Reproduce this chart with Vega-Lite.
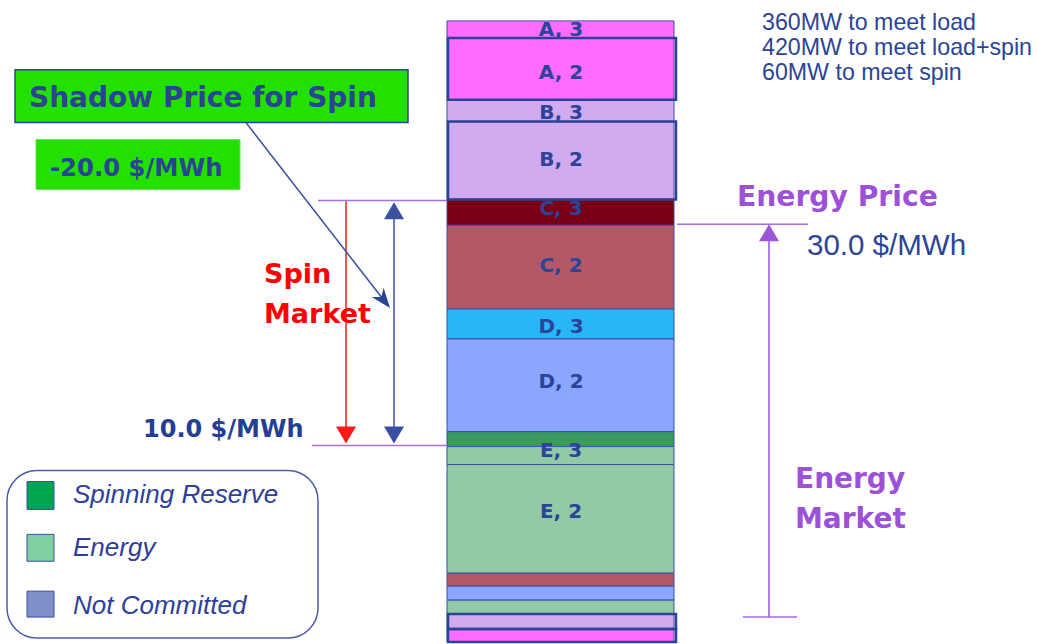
{
  "$schema": "https://vega.github.io/schema/vega-lite/v6.json",
  "width": 1038,
  "height": 644,
  "autosize": {"type": "fit", "contains": "padding"},
  "padding": 0,
  "background": "white",
  "config": {"view": {"stroke": null}},
  "datasets": {
    "blocks": [
      {"offer": "A, 3", "kind": "A-nc", "top": 21, "bottom": 38, "thick": false},
      {"offer": "A, 2", "kind": "A-nc", "top": 38, "bottom": 100, "thick": true},
      {"offer": "B, 3", "kind": "B-nc", "top": 100, "bottom": 122, "thick": false},
      {"offer": "B, 2", "kind": "B-nc", "top": 122, "bottom": 200, "thick": true},
      {"offer": "C, 3", "kind": "C-spin", "top": 200, "bottom": 226, "thick": false},
      {"offer": "C, 2", "kind": "C-energy", "top": 226, "bottom": 310, "thick": false},
      {"offer": "D, 3", "kind": "D-spin", "top": 310, "bottom": 340, "thick": false},
      {"offer": "D, 2", "kind": "D-energy", "top": 340, "bottom": 433, "thick": false},
      {"offer": "E, 3", "kind": "E-spin", "top": 433, "bottom": 448, "thick": false},
      {"offer": "E, 3", "kind": "E-energy", "top": 448, "bottom": 466, "thick": false},
      {"offer": "E, 2", "kind": "E-energy", "top": 466, "bottom": 575, "thick": false},
      {"offer": "C, 1", "kind": "C-energy", "top": 575, "bottom": 588, "thick": false},
      {"offer": "D, 1", "kind": "D-energy", "top": 588, "bottom": 602, "thick": false},
      {"offer": "E, 1", "kind": "E-energy", "top": 602, "bottom": 616, "thick": false},
      {"offer": "B, 1", "kind": "B-nc", "top": 616, "bottom": 631, "thick": true},
      {"offer": "A, 1", "kind": "A-nc", "top": 631, "bottom": 644, "thick": true}
    ],
    "labels": [
      {"label": "A, 3", "y": 30},
      {"label": "A, 2", "y": 73},
      {"label": "B, 3", "y": 113},
      {"label": "B, 2", "y": 160},
      {"label": "C, 3", "y": 210},
      {"label": "C, 2", "y": 267},
      {"label": "D, 3", "y": 328},
      {"label": "D, 2", "y": 383},
      {"label": "E, 3", "y": 452},
      {"label": "E, 2", "y": 514}
    ],
    "rules": [
      {"x": 318, "x2": 447, "y": 201, "y2": 201, "group": "guide"},
      {"x": 312, "x2": 447, "y": 447, "y2": 447, "group": "guide"},
      {"x": 677, "x2": 808, "y": 225, "y2": 225, "group": "guide"},
      {"x": 743, "x2": 797, "y": 619, "y2": 619, "group": "guide"},
      {"x": 346, "x2": 346, "y": 202, "y2": 432, "group": "spin"},
      {"x": 394, "x2": 394, "y": 215, "y2": 432, "group": "range"},
      {"x": 769, "x2": 769, "y": 238, "y2": 619, "group": "energy"},
      {"x": 246, "x2": 386, "y": 123, "y2": 304, "group": "pointer"}
    ],
    "heads": [
      {"x": 346, "y": 445, "group": "spin", "dir": "down"},
      {"x": 394, "y": 445, "group": "range", "dir": "down"},
      {"x": 394, "y": 203, "group": "range", "dir": "up"},
      {"x": 769, "y": 225, "group": "energy", "dir": "up"}
    ],
    "swatches": [
      {"kind": "Spinning Reserve", "y": 483, "y2": 511, "ty": 505},
      {"kind": "Energy", "y": 536, "y2": 563, "ty": 558},
      {"kind": "Not Committed", "y": 593, "y2": 619, "ty": 616}
    ]
  },
  "layer": [
    {
      "data": {"values": [{"x": 7, "x2": 318, "y": 472, "y2": 640}]},
      "mark": {"type": "rect", "fill": "white", "stroke": "#4b5ca6", "strokeWidth": 1.5, "cornerRadius": 30},
      "encoding": {
        "x": {"field": "x", "type": "quantitative", "scale": {"domain": [0, 1038], "nice": false, "zero": false}, "axis": null},
        "x2": {"field": "x2"},
        "y": {"field": "y", "type": "quantitative", "scale": {"domain": [0, 644], "reverse": true, "nice": false, "zero": false}, "axis": null},
        "y2": {"field": "y2"}
      }
    },
    {
      "data": {"values": [{"x": 15, "x2": 408, "y": 70, "y2": 123}]},
      "mark": {"type": "rect", "fill": "#22e000", "stroke": "#2d4596", "strokeWidth": 1.5},
      "encoding": {
        "x": {"field": "x", "type": "quantitative", "scale": {"domain": [0, 1038], "nice": false, "zero": false}, "axis": null},
        "x2": {"field": "x2"},
        "y": {"field": "y", "type": "quantitative", "scale": {"domain": [0, 644], "reverse": true, "nice": false, "zero": false}, "axis": null},
        "y2": {"field": "y2"}
      }
    },
    {
      "data": {"values": [{"x": 36, "x2": 240, "y": 140, "y2": 190}]},
      "mark": {"type": "rect", "fill": "#22e000", "stroke": "#60e44c", "strokeWidth": 1},
      "encoding": {
        "x": {"field": "x", "type": "quantitative", "scale": {"domain": [0, 1038], "nice": false, "zero": false}, "axis": null},
        "x2": {"field": "x2"},
        "y": {"field": "y", "type": "quantitative", "scale": {"domain": [0, 644], "reverse": true, "nice": false, "zero": false}, "axis": null},
        "y2": {"field": "y2"}
      }
    },
    {
      "data": {"name": "blocks"},
      "mark": {"type": "rect", "stroke": "#3b4fa3", "strokeWidth": 1},
      "encoding": {
        "x": {"datum": 447, "type": "quantitative", "scale": {"domain": [0, 1038], "nice": false, "zero": false}, "axis": null},
        "x2": {"datum": 674},
        "y": {"field": "top", "type": "quantitative", "scale": {"domain": [0, 644], "reverse": true, "nice": false, "zero": false}, "axis": null},
        "y2": {"field": "bottom"},
        "fill": {
          "field": "kind", "type": "nominal", "legend": null,
          "scale": {
            "domain": ["A-nc", "B-nc", "C-spin", "C-energy", "D-spin", "D-energy", "E-spin", "E-energy", "Spinning Reserve", "Energy", "Not Committed"],
            "range": ["#ff6cff", "#d2aaf0", "#7a0016", "#b45868", "#29b6f6", "#8aa6ff", "#3a9a62", "#92caa8", "#00a550", "#7fd0a0", "#8090c8"]
          }
        }
      }
    },
    {
      "data": {"name": "blocks"},
      "transform": [{"filter": "datum.thick"}],
      "mark": {"type": "rect", "filled": false, "stroke": "#2a4494", "strokeWidth": 2.5},
      "encoding": {
        "x": {"datum": 448, "type": "quantitative", "scale": {"domain": [0, 1038], "nice": false, "zero": false}, "axis": null},
        "x2": {"datum": 676},
        "y": {"field": "top", "type": "quantitative", "scale": {"domain": [0, 644], "reverse": true, "nice": false, "zero": false}, "axis": null},
        "y2": {"field": "bottom"}
      }
    },
    {
      "data": {"name": "labels"},
      "mark": {"type": "text", "font": "DejaVu Sans", "fontWeight": "bold", "fontSize": 20, "fill": "#2b4497", "align": "center", "baseline": "middle"},
      "encoding": {
        "x": {"datum": 561, "type": "quantitative", "scale": {"domain": [0, 1038], "nice": false, "zero": false}, "axis": null},
        "y": {"field": "y", "type": "quantitative", "scale": {"domain": [0, 644], "reverse": true, "nice": false, "zero": false}, "axis": null},
        "text": {"field": "label", "type": "nominal"}
      }
    },
    {
      "data": {"name": "rules"},
      "mark": {"type": "rule", "strokeWidth": 1.5},
      "encoding": {
        "x": {"field": "x", "type": "quantitative", "scale": {"domain": [0, 1038], "nice": false, "zero": false}, "axis": null},
        "x2": {"field": "x2"},
        "y": {"field": "y", "type": "quantitative", "scale": {"domain": [0, 644], "reverse": true, "nice": false, "zero": false}, "axis": null},
        "y2": {"field": "y2"},
        "color": {
          "field": "group", "type": "nominal", "legend": null,
          "scale": {"domain": ["guide", "spin", "range", "energy", "pointer"], "range": ["#a66ee0", "#ff1a1a", "#3a4f9f", "#9b55d8", "#3a4f9f"]}
        }
      }
    },
    {
      "data": {"name": "heads"},
      "mark": {"type": "point", "filled": true, "opacity": 1, "size": 400, "strokeWidth": 0},
      "encoding": {
        "x": {"field": "x", "type": "quantitative", "scale": {"domain": [0, 1038], "nice": false, "zero": false}, "axis": null},
        "y": {"field": "y", "type": "quantitative", "scale": {"domain": [0, 644], "reverse": true, "nice": false, "zero": false}, "axis": null},
        "shape": {"field": "dir", "type": "nominal", "legend": null, "scale": {"domain": ["up", "down"], "range": ["M0,0L-1,1.7L1,1.7Z", "M0,0L-1,-1.7L1,-1.7Z"]}},
        "color": {"field": "group", "type": "nominal", "legend": null}
      }
    },
    {
      "data": {"values": [{"x": 390, "y": 309}]},
      "mark": {"type": "point", "filled": true, "opacity": 1, "size": 400, "strokeWidth": 0, "fill": "#2a4494", "shape": "M0,0L-0.75,-2L0,-1.4L0.75,-2Z", "angle": 322},
      "encoding": {
        "x": {"field": "x", "type": "quantitative", "scale": {"domain": [0, 1038], "nice": false, "zero": false}, "axis": null},
        "y": {"field": "y", "type": "quantitative", "scale": {"domain": [0, 644], "reverse": true, "nice": false, "zero": false}, "axis": null}
      }
    },
    {
      "data": {"name": "swatches"},
      "mark": {"type": "rect", "stroke": "#3b4fa3", "strokeWidth": 1},
      "encoding": {
        "x": {"datum": 27, "type": "quantitative", "scale": {"domain": [0, 1038], "nice": false, "zero": false}, "axis": null},
        "x2": {"datum": 54},
        "y": {"field": "y", "type": "quantitative", "scale": {"domain": [0, 644], "reverse": true, "nice": false, "zero": false}, "axis": null},
        "y2": {"field": "y2"},
        "fill": {"field": "kind", "type": "nominal", "legend": null}
      }
    },
    {
      "data": {"name": "swatches"},
      "mark": {"type": "text", "font": "Liberation Sans", "fontStyle": "italic", "fontSize": 26, "fill": "#2e409a", "align": "left", "baseline": "alphabetic"},
      "encoding": {
        "x": {"datum": 73, "type": "quantitative", "scale": {"domain": [0, 1038], "nice": false, "zero": false}, "axis": null},
        "y": {"field": "ty", "type": "quantitative", "scale": {"domain": [0, 644], "reverse": true, "nice": false, "zero": false}, "axis": null},
        "text": {"field": "kind", "type": "nominal"}
      }
    },
    {
      "data": {"values": [{"t": "360MW to meet load", "y": 30}, {"t": "420MW to meet load+spin", "y": 55}, {"t": "60MW to meet spin", "y": 80}]},
      "mark": {"type": "text", "font": "Liberation Sans", "fontSize": 23.2, "fill": "#2b4497", "align": "left", "baseline": "alphabetic"},
      "encoding": {
        "x": {"datum": 762, "type": "quantitative", "scale": {"domain": [0, 1038], "nice": false, "zero": false}, "axis": null},
        "y": {"field": "y", "type": "quantitative", "scale": {"domain": [0, 644], "reverse": true, "nice": false, "zero": false}, "axis": null},
        "text": {"field": "t", "type": "nominal"}
      }
    },
    {
      "data": {"values": [{"t": "Shadow Price for Spin", "x": 29, "y": 107}]},
      "mark": {"type": "text", "font": "DejaVu Sans", "fontWeight": "bold", "fontSize": 28, "fill": "#2a4494", "align": "left", "baseline": "alphabetic"},
      "encoding": {
        "x": {"field": "x", "type": "quantitative", "scale": {"domain": [0, 1038], "nice": false, "zero": false}, "axis": null},
        "y": {"field": "y", "type": "quantitative", "scale": {"domain": [0, 644], "reverse": true, "nice": false, "zero": false}, "axis": null},
        "text": {"field": "t", "type": "nominal"}
      }
    },
    {
      "data": {"values": [{"t": "-20.0 $/MWh", "x": 50, "y": 177}]},
      "mark": {"type": "text", "font": "DejaVu Sans", "fontWeight": "bold", "fontSize": 24.3, "fill": "#2a4494", "align": "left", "baseline": "alphabetic"},
      "encoding": {
        "x": {"field": "x", "type": "quantitative", "scale": {"domain": [0, 1038], "nice": false, "zero": false}, "axis": null},
        "y": {"field": "y", "type": "quantitative", "scale": {"domain": [0, 644], "reverse": true, "nice": false, "zero": false}, "axis": null},
        "text": {"field": "t", "type": "nominal"}
      }
    },
    {
      "data": {"values": [{"t": "Spin", "y": 284}, {"t": "Market", "y": 324}]},
      "mark": {"type": "text", "font": "DejaVu Sans", "fontWeight": "bold", "fontSize": 27, "fill": "#ff0000", "align": "left", "baseline": "alphabetic"},
      "encoding": {
        "x": {"datum": 264, "type": "quantitative", "scale": {"domain": [0, 1038], "nice": false, "zero": false}, "axis": null},
        "y": {"field": "y", "type": "quantitative", "scale": {"domain": [0, 644], "reverse": true, "nice": false, "zero": false}, "axis": null},
        "text": {"field": "t", "type": "nominal"}
      }
    },
    {
      "data": {"values": [{"t": "10.0 $/MWh", "x": 143, "y": 438}]},
      "mark": {"type": "text", "font": "DejaVu Sans", "fontWeight": "bold", "fontSize": 24, "fill": "#233f95", "align": "left", "baseline": "alphabetic"},
      "encoding": {
        "x": {"field": "x", "type": "quantitative", "scale": {"domain": [0, 1038], "nice": false, "zero": false}, "axis": null},
        "y": {"field": "y", "type": "quantitative", "scale": {"domain": [0, 644], "reverse": true, "nice": false, "zero": false}, "axis": null},
        "text": {"field": "t", "type": "nominal"}
      }
    },
    {
      "data": {"values": [{"t": "Energy Price", "x": 737, "y": 207}]},
      "mark": {"type": "text", "font": "DejaVu Sans", "fontWeight": "bold", "fontSize": 28.2, "fill": "#9d50d8", "align": "left", "baseline": "alphabetic"},
      "encoding": {
        "x": {"field": "x", "type": "quantitative", "scale": {"domain": [0, 1038], "nice": false, "zero": false}, "axis": null},
        "y": {"field": "y", "type": "quantitative", "scale": {"domain": [0, 644], "reverse": true, "nice": false, "zero": false}, "axis": null},
        "text": {"field": "t", "type": "nominal"}
      }
    },
    {
      "data": {"values": [{"t": "30.0 $/MWh", "x": 807, "y": 256}]},
      "mark": {"type": "text", "font": "Liberation Sans", "fontSize": 29.5, "fill": "#2b4497", "align": "left", "baseline": "alphabetic"},
      "encoding": {
        "x": {"field": "x", "type": "quantitative", "scale": {"domain": [0, 1038], "nice": false, "zero": false}, "axis": null},
        "y": {"field": "y", "type": "quantitative", "scale": {"domain": [0, 644], "reverse": true, "nice": false, "zero": false}, "axis": null},
        "text": {"field": "t", "type": "nominal"}
      }
    },
    {
      "data": {"values": [{"t": "Energy", "y": 490}, {"t": "Market", "y": 530}]},
      "mark": {"type": "text", "font": "DejaVu Sans", "fontWeight": "bold", "fontSize": 28, "fill": "#9d50d8", "align": "left", "baseline": "alphabetic"},
      "encoding": {
        "x": {"datum": 795, "type": "quantitative", "scale": {"domain": [0, 1038], "nice": false, "zero": false}, "axis": null},
        "y": {"field": "y", "type": "quantitative", "scale": {"domain": [0, 644], "reverse": true, "nice": false, "zero": false}, "axis": null},
        "text": {"field": "t", "type": "nominal"}
      }
    }
  ]
}
